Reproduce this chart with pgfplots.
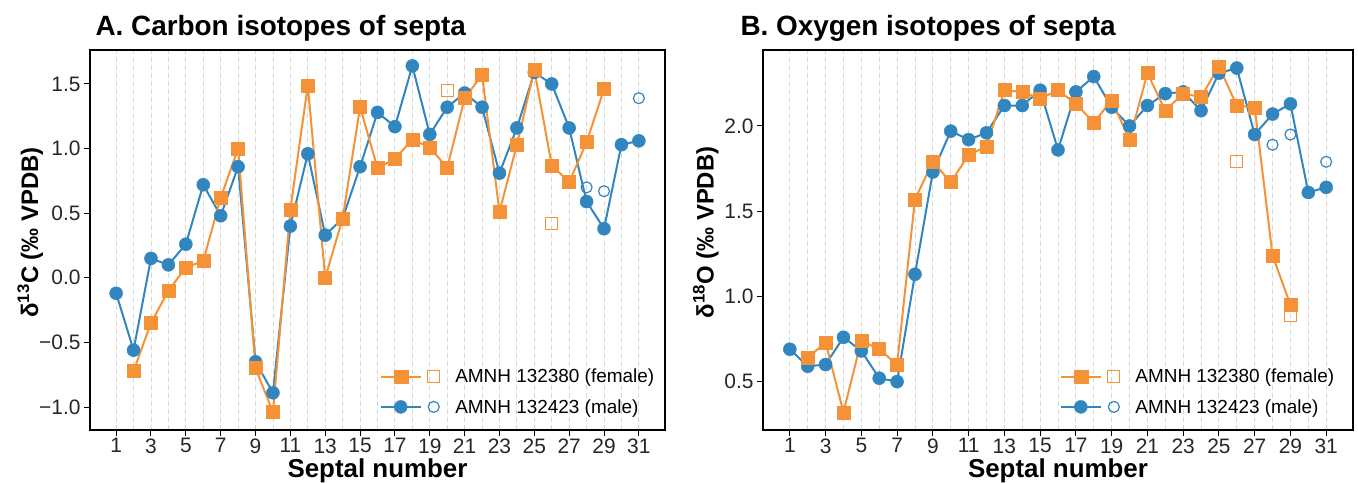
\documentclass[border=0pt]{standalone}
\usepackage{fontspec}
\setmainfont{Liberation Sans}
\usepackage{pgfplots}
\usepackage{pgfplotstable}
\pgfplotsset{compat=1.18}
\definecolor{cOr}{RGB}{245,146,55}
\definecolor{cBl}{RGB}{50,134,192}
\definecolor{cGrid}{RGB}{215,215,215}

% Carbon
\pgfplotstableread{
s v
2 -0.72
3 -0.35
4 -0.10
5 0.08
6 0.13
7 0.62
8 1.00
9 -0.70
10 -1.04
11 0.53
12 1.49
13 0.00
14 0.46
15 1.32
16 0.85
17 0.92
18 1.07
19 1.01
20 0.85
21 1.39
22 1.57
23 0.51
24 1.03
25 1.61
26 0.87
27 0.74
28 1.05
29 1.46
}\Cfem
\pgfplotstableread{
s v
1 -0.12
2 -0.56
3 0.15
4 0.10
5 0.26
6 0.72
7 0.48
8 0.86
9 -0.65
10 -0.89
11 0.40
12 0.96
13 0.33
14 0.46
15 0.86
16 1.28
17 1.17
18 1.64
19 1.11
20 1.32
21 1.43
22 1.32
23 0.81
24 1.16
25 1.59
26 1.50
27 1.16
28 0.59
29 0.38
30 1.03
31 1.06
}\Cmal
\pgfplotstableread{
s v
20 1.45
26 0.42
}\Cfemo
\pgfplotstableread{
s v
28 0.70
29 0.67
31 1.39
}\Cmalo
% Oxygen
\pgfplotstableread{
s v
2 0.64
3 0.73
4 0.32
5 0.74
6 0.69
7 0.60
8 1.57
9 1.79
10 1.67
11 1.83
12 1.88
13 2.21
14 2.20
15 2.16
16 2.21
17 2.13
18 2.02
19 2.15
20 1.92
21 2.31
22 2.09
23 2.19
24 2.17
25 2.35
26 2.12
27 2.11
28 1.24
29 0.95
}\Ofem
\pgfplotstableread{
s v
1 0.69
2 0.59
3 0.60
4 0.76
5 0.68
6 0.52
7 0.50
8 1.13
9 1.73
10 1.97
11 1.92
12 1.96
13 2.12
14 2.12
15 2.21
16 1.86
17 2.20
18 2.29
19 2.11
20 2.00
21 2.12
22 2.19
23 2.20
24 2.09
25 2.31
26 2.34
27 1.95
28 2.07
29 2.13
30 1.61
31 1.64
}\Omal
\pgfplotstableread{
s v
26 1.79
29 0.89
}\Ofemo
\pgfplotstableread{
s v
28 1.89
29 1.95
31 1.79
}\Omalo

\pgfplotsset{
  common/.style={
    scale only axis,
    height=380bp,
    xmin=-0.5, xmax=32.5,
    xtick={1,3,...,31},
    minor xtick={2,4,...,30},
    xmajorgrids, xminorgrids,
    major grid style={cGrid, line width=0.9bp, dash pattern=on 5bp off 3bp},
    minor grid style={cGrid, line width=0.9bp, dash pattern=on 5bp off 3bp},
    minor tick length=0pt,
    major tick length=6bp,
    tick align=outside,
    xtick pos=bottom, ytick pos=left,
    tick style={black, line width=1bp},
    axis line style={black, line width=1.6bp},
    /pgf/number format/assume math mode=true,
    tick label style={font=\fontsize{21}{21}\selectfont, text=black!85},
    xticklabel style={yshift=1bp},
    xlabel={Septal number},
    xlabel style={font=\bfseries\fontsize{26}{26}\selectfont, at={(axis description cs:0.5,-0.124)}, anchor=base},
    ylabel style={font=\bfseries\fontsize{24}{24}\selectfont, anchor=center},
    legend style={draw=none, fill=none, inner sep=0pt, font=\fontsize{19}{19}\selectfont, row sep=11bp,
      /tikz/every odd column/.append style={column sep=13bp}},
    legend cell align=left,
  },
  mal/.style={cBl, line width=2bp, mark=*, mark size=6.5bp, mark options={solid, fill=cBl, draw=cBl, line width=0.5bp}},
  fem/.style={cOr, line width=2bp, mark=square*, mark size=6.5bp, mark options={solid, fill=cOr, draw=cOr, line width=0.5bp}},
  malo/.style={cBl, only marks, mark=o, mark size=5.5bp, mark options={line width=1.2bp, fill=white}},
  femo/.style={cOr, only marks, mark=square, mark size=6bp, mark options={line width=1.2bp, fill=white}},
}

\newcommand{\legF}{\addlegendimage{legend image code/.code={
  \draw[cOr, line width=2bp] (0bp,0bp) -- (40bp,0bp);
  \fill[cOr] (13bp,-6.5bp) rectangle (27bp,6.5bp);
  \draw[cOr, line width=1.2bp] (47bp,-6bp) rectangle (59bp,6bp);
}}}
\newcommand{\legM}{\addlegendimage{legend image code/.code={
  \draw[cBl, line width=2bp] (0bp,0bp) -- (40bp,0bp);
  \fill[cBl] (20bp,0bp) circle (6.5bp);
  \draw[cBl, line width=1.2bp] (53bp,0bp) circle (5.5bp);
}}}

\begin{document}
\begin{tikzpicture}
\useasboundingbox (0,0) rectangle (1358bp,483bp);
\begin{axis}[common, name=A,
  at={(90bp,53bp)}, anchor=south west,
  width=575bp,
  ymin=-1.178, ymax=1.763,
  ytick={-1,-0.5,0,0.5,1,1.5},
  yticklabels={−1.0,−0.5,0.0,0.5,1.0,1.5},
  ylabel={δ\textsuperscript{13}C (‰ VPDB)},
  ylabel style={at={(axis description cs:-0.104,0.52)}},
  legend style={at={(axis description cs:0.985,0.035)}, anchor=south east},
]
\legF\addlegendentry{AMNH 132380 (female)}
\legM\addlegendentry{AMNH 132423 (male)}
\addplot[mal] table[x=s,y=v] {\Cmal};
\addplot[fem] table[x=s,y=v] {\Cfem};
\addplot[malo] table[x=s,y=v] {\Cmalo};
\addplot[femo] table[x=s,y=v] {\Cfemo};
\end{axis}

\begin{axis}[common, name=B,
  at={(763bp,53bp)}, anchor=south west,
  width=590bp,
  ymin=0.216, ymax=2.446,
  ytick={0.5,1,1.5,2},
  yticklabels={0.5,1.0,1.5,2.0},
  ylabel={δ\textsuperscript{18}O (‰ VPDB)},
  ylabel style={at={(axis description cs:-0.097,0.52)}},
  legend style={at={(axis description cs:0.972,0.035)}, anchor=south east},
]
\legF\addlegendentry{AMNH 132380 (female)}
\legM\addlegendentry{AMNH 132423 (male)}
\addplot[mal] table[x=s,y=v] {\Omal};
\addplot[fem] table[x=s,y=v] {\Ofem};
\addplot[malo] table[x=s,y=v] {\Omalo};
\addplot[femo] table[x=s,y=v] {\Ofemo};
\end{axis}
\node[anchor=base west, font=\bfseries\fontsize{28}{28}\selectfont] at (92bp,447bp) {A. Carbon isotopes of septa};
\node[anchor=base west, font=\bfseries\fontsize{28}{28}\selectfont] at (737bp,447bp) {B. Oxygen isotopes of septa};
\end{tikzpicture}
\end{document}
